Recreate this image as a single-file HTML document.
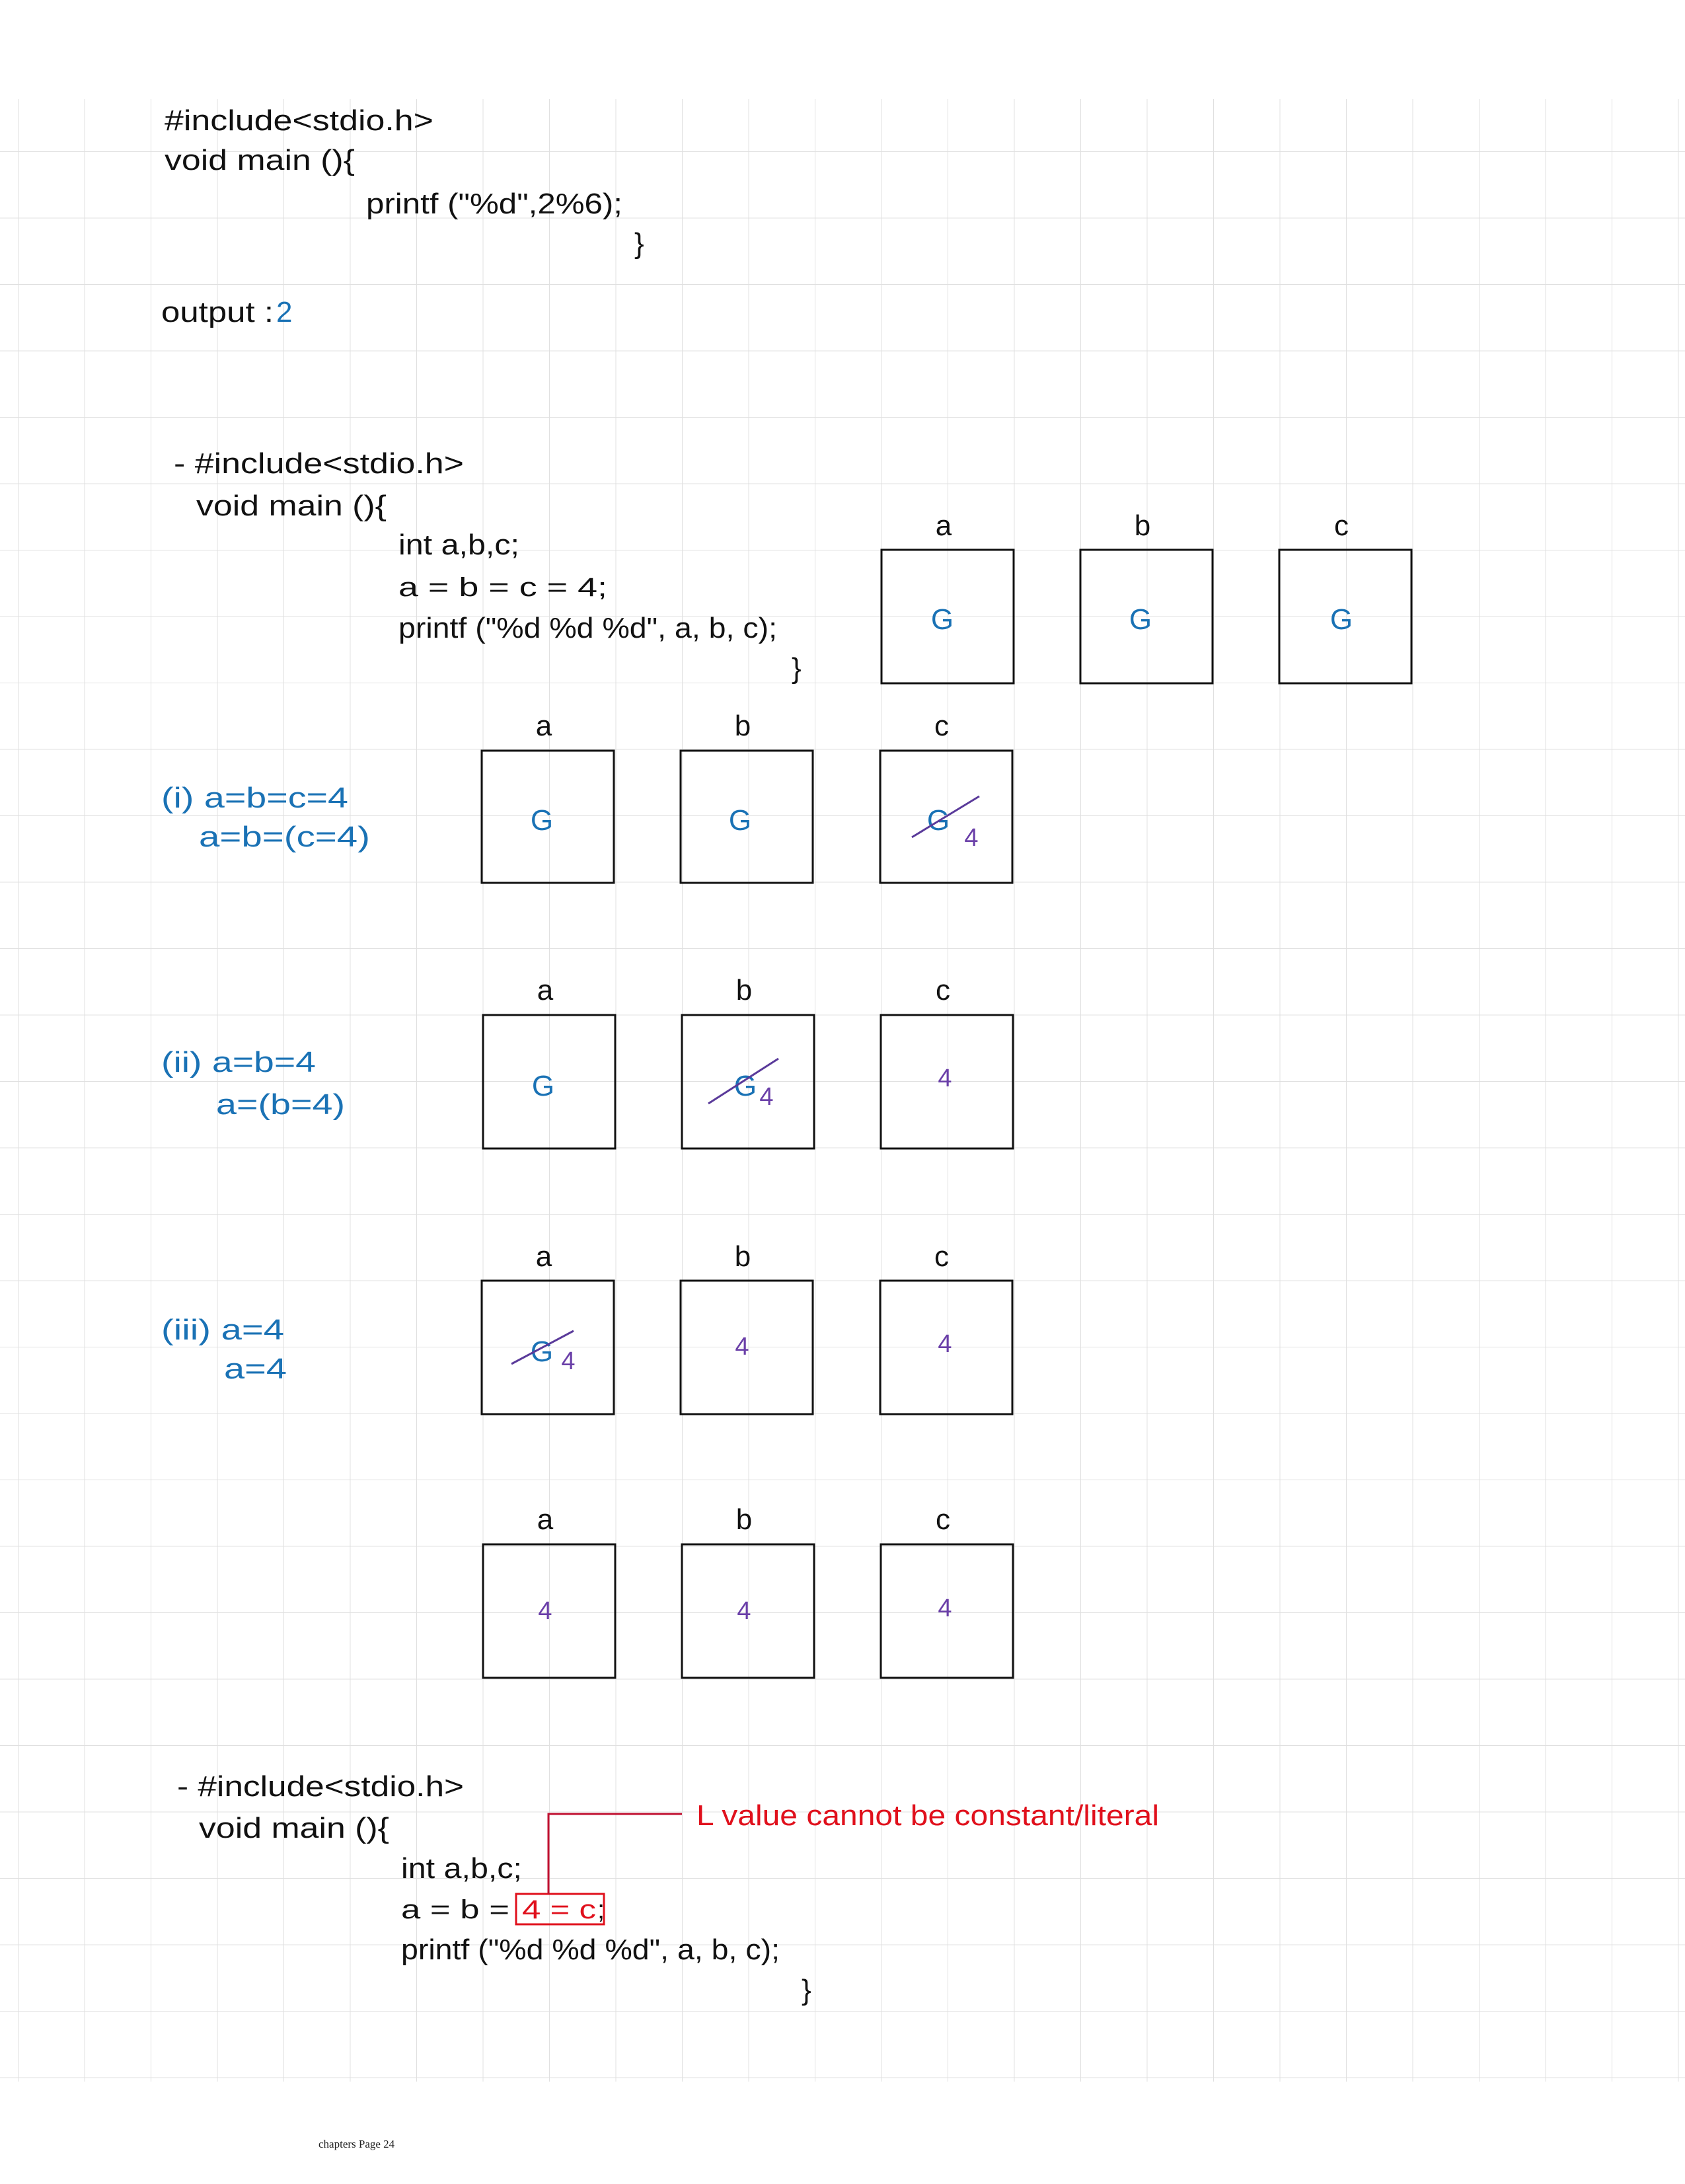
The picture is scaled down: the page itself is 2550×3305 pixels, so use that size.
<!DOCTYPE html>
<html><head><meta charset="utf-8"><style>
html,body{margin:0;padding:0;background:#fff;}
svg{display:block;}
text{font-family:"Liberation Sans Narrow","Liberation Sans",sans-serif;}
</style></head><body>
<svg width="2550" height="3305" viewBox="0 0 2550 3305" xmlns="http://www.w3.org/2000/svg">
<defs>
<pattern id="g" x="27" y="28" width="100.5" height="100.5" patternUnits="userSpaceOnUse">
<path d="M0 0V100.5M0 0H100.5" stroke="#e0e0e0" stroke-width="2" fill="none"/>
</pattern>
</defs>
<rect x="0" y="150" width="2550" height="3000" fill="url(#g)"/>
<g font-size="44" fill="#111">
<text x="249" y="197" textLength="407" lengthAdjust="spacingAndGlyphs">#include&lt;stdio.h&gt;</text>
<text x="249" y="257" textLength="288" lengthAdjust="spacingAndGlyphs">void main (){</text>
<text x="554" y="323" textLength="388" lengthAdjust="spacingAndGlyphs">printf ("%d",2%6);</text>
<text x="960" y="383">}</text>
<text x="244" y="487" textLength="170" lengthAdjust="spacingAndGlyphs">output :</text>
<text x="418" y="487" fill="#1a72b5">2</text>

<text x="263" y="716" textLength="439" lengthAdjust="spacingAndGlyphs">- #include&lt;stdio.h&gt;</text>
<text x="297" y="780" textLength="288" lengthAdjust="spacingAndGlyphs">void main (){</text>
<text x="603" y="839" textLength="183" lengthAdjust="spacingAndGlyphs">int a,b,c;</text>
<text x="603" y="902" font-size="40" textLength="316" lengthAdjust="spacingAndGlyphs">a = b = c = 4;</text>
<text x="603" y="965" textLength="573" lengthAdjust="spacingAndGlyphs">printf ("%d %d %d", a, b, c);</text>
<text x="1198" y="1026">}</text>

<g fill="#1a72b5">
<text x="244" y="1222" textLength="283" lengthAdjust="spacingAndGlyphs">(i) a=b=c=4</text>
<text x="301" y="1281" textLength="259" lengthAdjust="spacingAndGlyphs">a=b=(c=4)</text>
<text x="244" y="1622" textLength="234" lengthAdjust="spacingAndGlyphs">(ii) a=b=4</text>
<text x="327" y="1686" textLength="195" lengthAdjust="spacingAndGlyphs">a=(b=4)</text>
<text x="244" y="2027" textLength="186" lengthAdjust="spacingAndGlyphs">(iii) a=4</text>
<text x="339" y="2086" textLength="95" lengthAdjust="spacingAndGlyphs">a=4</text>
</g>

<text x="268" y="2718" textLength="434" lengthAdjust="spacingAndGlyphs">- #include&lt;stdio.h&gt;</text>
<text x="301" y="2781" textLength="288" lengthAdjust="spacingAndGlyphs">void main (){</text>
<text x="607" y="2842" textLength="183" lengthAdjust="spacingAndGlyphs">int a,b,c;</text>
<text x="607" y="2903" font-size="40" textLength="164" lengthAdjust="spacingAndGlyphs">a = b =</text>
<text x="790" y="2903" font-size="40" fill="#e0101c" textLength="112" lengthAdjust="spacingAndGlyphs">4 = c</text>
<text x="904" y="2903" font-size="40">;</text>
<text x="607" y="2965" textLength="573" lengthAdjust="spacingAndGlyphs">printf ("%d %d %d", a, b, c);</text>
<text x="1213" y="3026">}</text>
<text x="1054" y="2762" fill="#e0101c" textLength="700" lengthAdjust="spacingAndGlyphs">L value cannot be constant/literal</text>
</g>
<rect x="781" y="2866" width="133" height="46" fill="none" stroke="#e0101c" stroke-width="3"/>
<path d="M830 2866V2745H1032" fill="none" stroke="#c01030" stroke-width="3"/>

<text x="482" y="3250" font-size="17" fill="#222" style="font-family:'Liberation Serif',serif">chapters Page 24</text>

<g stroke="#111" stroke-width="3" fill="none">
<rect x="1334" y="832" width="200" height="202"/>
<rect x="1635" y="832" width="200" height="202"/>
<rect x="1936" y="832" width="200" height="202"/>
<rect x="729" y="1136" width="200" height="200"/>
<rect x="1030" y="1136" width="200" height="200"/>
<rect x="1332" y="1136" width="200" height="200"/>
<rect x="731" y="1536" width="200" height="202"/>
<rect x="1032" y="1536" width="200" height="202"/>
<rect x="1333" y="1536" width="200" height="202"/>
<rect x="729" y="1938" width="200" height="202"/>
<rect x="1030" y="1938" width="200" height="202"/>
<rect x="1332" y="1938" width="200" height="202"/>
<rect x="731" y="2337" width="200" height="202"/>
<rect x="1032" y="2337" width="200" height="202"/>
<rect x="1333" y="2337" width="200" height="202"/>
</g>
<g font-size="44" fill="#111" text-anchor="middle">
<text x="1428" y="810">a</text><text x="1729" y="810">b</text><text x="2030" y="810">c</text>
<text x="823" y="1113">a</text><text x="1124" y="1113">b</text><text x="1425" y="1113">c</text>
<text x="825" y="1513">a</text><text x="1126" y="1513">b</text><text x="1427" y="1513">c</text>
<text x="823" y="1916">a</text><text x="1124" y="1916">b</text><text x="1425" y="1916">c</text>
<text x="825" y="2314">a</text><text x="1126" y="2314">b</text><text x="1427" y="2314">c</text>
</g>
<g font-size="44" fill="#1a72b5" text-anchor="middle">
<text x="1426" y="952">G</text><text x="1726" y="952">G</text><text x="2030" y="952">G</text>
<text x="820" y="1256">G</text><text x="1120" y="1256">G</text><text x="1420" y="1256">G</text>
<text x="822" y="1658">G</text><text x="1128" y="1658">G</text>
<text x="820" y="2060">G</text>
</g>
<g font-size="38" fill="#6a3fa8" text-anchor="middle">
<text x="1470" y="1280">4</text>
<text x="1160" y="1672">4</text><text x="1430" y="1644">4</text>
<text x="860" y="2072">4</text><text x="1123" y="2050">4</text><text x="1430" y="2046">4</text>
<text x="825" y="2450">4</text><text x="1126" y="2450">4</text><text x="1430" y="2446">4</text>
</g>
<g stroke="#5a3a9a" stroke-width="3">
<line x1="1380" y1="1267" x2="1482" y2="1205"/>
<line x1="1072" y1="1670" x2="1178" y2="1602"/>
<line x1="774" y1="2064" x2="868" y2="2014"/>
</g>
</svg>
</body></html>
